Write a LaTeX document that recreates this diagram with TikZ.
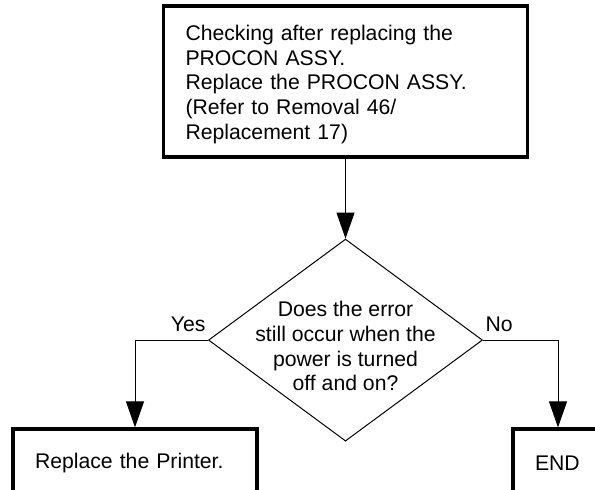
\documentclass[tikz,border=0pt]{standalone}
\usepackage{fontspec}
\setmainfont{Liberation Sans}
\usetikzlibrary{shapes.geometric, arrows.meta, positioning}

\begin{document}
\begin{tikzpicture}[
    >={Triangle[length=13pt, width=9pt]},
    node distance=40pt,
    font=\fontsize{10.6}{12.35}\selectfont,
    stepbox/.style={draw, rectangle, line width=1.6pt, align=left, inner xsep=11pt, inner ysep=0pt},
    question/.style={draw, diamond, aspect=1.356, line width=0.5pt, align=center, minimum width=137pt, minimum height=101pt, inner sep=-6pt, text height=50.8pt},
    flow/.style={->, line width=0.5pt},
    answer/.style={inner xsep=1pt, inner ysep=4pt}
]

\useasboundingbox (0,0) rectangle (297.5pt,-245pt);

% Check after replacement
\node[stepbox, text width=160pt, minimum height=75.5pt, text height=10.7pt] (check) at (172.75pt,-40.75pt) {Checking after replacing the\\ PROCON ASSY.\\ Replace the PROCON ASSY.\\ (Refer to Removal 46/\\ Replacement 17)};

% Question
\node[question, below=40pt of check] (ask) {Does the error\\ still occur when the\\ power is turned\\ off and on?};

% Outcomes
\node[stepbox, text width=100pt, minimum height=34pt] (printer) at (67.5pt,-231.5pt) {Replace the Printer.};
\node[stepbox, text width=23pt, minimum height=34pt] (finish) at (279pt,-231.5pt) {END};

% Connectors
\draw[flow] (check.south) -- (ask.north);
\draw[flow] (ask.west) node[answer, anchor=south east] {Yes} -| (printer.north);
\draw[flow] (ask.east) node[answer, anchor=south west] {No} -| (finish.north);

\end{tikzpicture}
\end{document}
